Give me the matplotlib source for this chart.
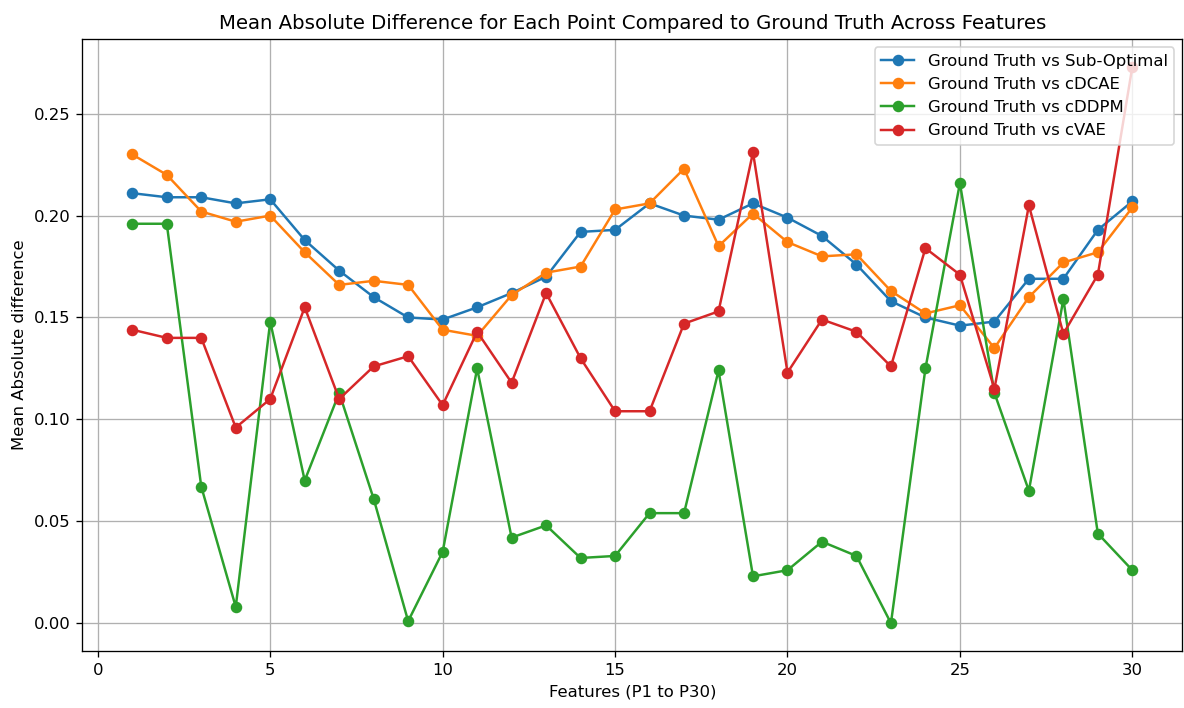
import matplotlib

matplotlib.use("Agg")
import matplotlib.pyplot as plt
import numpy as np

features = np.arange(1, 31)

sub_optimal = [0.211, 0.209, 0.209, 0.206, 0.208, 0.188, 0.173, 0.160, 0.150, 0.149,
               0.155, 0.162, 0.170, 0.192, 0.193, 0.206, 0.200, 0.198, 0.206, 0.199,
               0.190, 0.176, 0.158, 0.150, 0.146, 0.148, 0.169, 0.169, 0.193, 0.207]
cdcae = [0.230, 0.220, 0.202, 0.197, 0.200, 0.182, 0.166, 0.168, 0.166, 0.144,
         0.141, 0.161, 0.172, 0.175, 0.203, 0.206, 0.223, 0.185, 0.201, 0.187,
         0.180, 0.181, 0.163, 0.152, 0.156, 0.135, 0.160, 0.177, 0.182, 0.204]
cddpm = [0.196, 0.196, 0.067, 0.008, 0.148, 0.070, 0.113, 0.061, 0.001, 0.035,
         0.125, 0.042, 0.048, 0.032, 0.033, 0.054, 0.054, 0.124, 0.023, 0.026,
         0.040, 0.033, 0.000, 0.125, 0.216, 0.113, 0.065, 0.159, 0.044, 0.026]
cvae = [0.144, 0.140, 0.140, 0.096, 0.110, 0.155, 0.110, 0.126, 0.131, 0.107,
        0.143, 0.118, 0.162, 0.130, 0.104, 0.104, 0.147, 0.153, 0.231, 0.123,
        0.149, 0.143, 0.126, 0.184, 0.171, 0.115, 0.205, 0.142, 0.171, 0.273]

series = [
    ("Ground Truth vs Sub-Optimal", sub_optimal),
    ("Ground Truth vs cDCAE", cdcae),
    ("Ground Truth vs cDDPM", cddpm),
    ("Ground Truth vs cVAE", cvae),
]

dpi = 118.4
fig, ax = plt.subplots(figsize=(1184 / dpi, 708 / dpi), dpi=dpi)
for label, vals in series:
    ax.plot(features, vals, marker="o", label=label)

ax.set_xlabel("Features (P1 to P30)")
ax.set_ylabel("Mean Absolute difference")
ax.set_title("Mean Absolute Difference for Each Point Compared to Ground Truth Across Features")
ax.legend(loc="upper right")
ax.grid(True)
fig.subplots_adjust(left=0.0695, right=0.9986, top=0.9449, bottom=0.0805)
fig.savefig("out.png", dpi=dpi)
plt.close(fig)
